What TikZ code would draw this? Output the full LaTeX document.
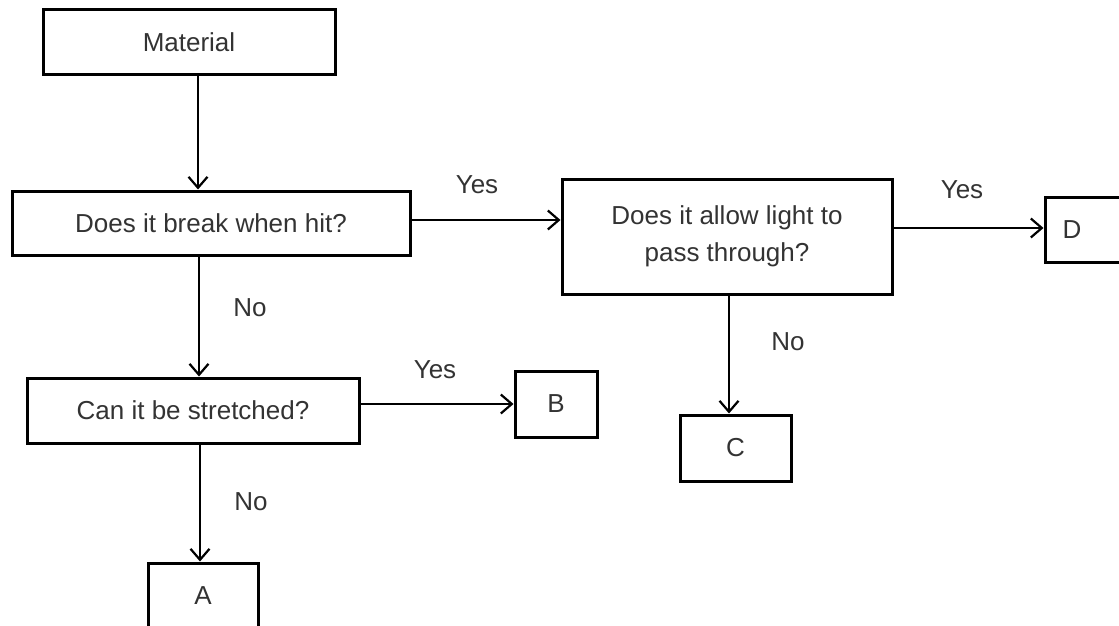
\documentclass[tikz,border=0pt]{standalone}
\usepackage{fontspec}
\setmainfont{Liberation Sans}
\usetikzlibrary{arrows.meta}
\begin{document}
\begin{tikzpicture}[x=1pt,y=-1pt,
  boxnode/.style={draw=black, line width=3pt, inner sep=0pt, align=center,
    font=\fontsize{26}{37}\selectfont, text=black!80},
  conn/.style={line width=2.8pt, -{Straight Barb[length=11pt,width=19pt,line width=2.2pt]}},
  lbl/.style={font=\fontsize{26}{30}\selectfont, text=black!80, inner sep=0pt}]
\useasboundingbox[fill=white] (0,0) rectangle (1119,626);
\node[boxnode, minimum width=292pt, minimum height=65pt] (mat) at (189,42.5) {Material};
\node[boxnode, minimum width=398pt, minimum height=64pt] (brk) at (211,223) {Does it break when hit?};
\node[boxnode, minimum width=330pt, minimum height=115pt] (lgt) at (727,236.5) {Does it allow light to\\pass through?};
\node[boxnode, minimum width=332pt, minimum height=65pt] (str) at (193,410.5) {Can it be stretched?};
\node[boxnode, minimum width=82pt, minimum height=66pt] (B) at (556,404) {B};
\node[boxnode, minimum width=111pt, minimum height=66pt] (C) at (735.5,448) {C};
\node[boxnode, minimum width=110pt, minimum height=77pt] (A) at (203,601.5) {\raisebox{11pt}{A}};
\node[boxnode, minimum width=80pt, minimum height=65pt] (D) at (1085,229.5) {D\hspace*{26pt}};
\draw[conn] (mat.south -| 198,0) -- (brk.north -| 198,0);
\draw[conn] (brk.east |- 0,220) -- (lgt.west |- 0,220);
\draw[conn] (lgt.east |- 0,228) -- (D.west |- 0,228);
\draw[conn] (brk.south -| 199,0) -- (str.north -| 199,0);
\draw[conn] (str.east |- 0,404) -- (B.west |- 0,404);
\draw[conn] (str.south -| 200,0) -- (A.north -| 200,0);
\draw[conn] (lgt.south -| 729,0) -- (C.north -| 729,0);
\node[lbl] (y1) at (477,185) {Yes};
\node[lbl] (y2) at (962,190) {Yes};
\node[lbl] (y3) at (435,370) {Yes};
\node[lbl] (n1) at (250,308) {No};
\node[lbl] (n2) at (251,502) {No};
\node[lbl] (n3) at (788,342) {No};
\end{tikzpicture}
\end{document}
